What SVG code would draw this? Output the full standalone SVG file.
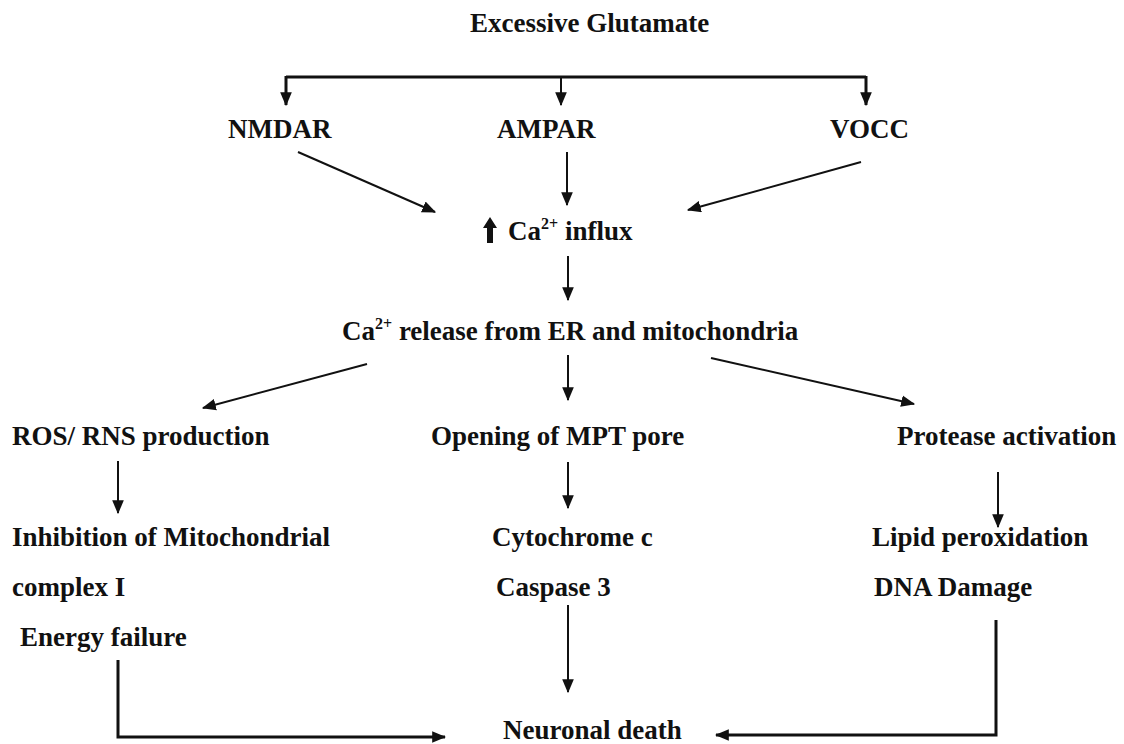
<svg xmlns="http://www.w3.org/2000/svg" width="1124" height="744" viewBox="0 0 1124 744">
<style>
.l{font-family:'Liberation Serif';font-weight:700;font-size:27px;fill:#111}
.sup{font-size:16px}
.c{fill:none;stroke:#111;stroke-width:2}
.t{stroke-width:3}
</style>
<defs>
<marker id="ah" viewBox="0 0 12 10" refX="11" refY="5" markerWidth="14" markerHeight="12" markerUnits="userSpaceOnUse" orient="auto">
<path d="M0,0 L12,5 L0,10 Z" fill="#111"/>
</marker>
</defs>
<rect width="1124" height="744" fill="#fff"/>
<g id="n-glutamate"><text class="l" font-family="Liberation Serif" x="470" y="32">Excessive Glutamate</text></g>
<g id="n-nmdar"><text class="l" font-family="Liberation Serif" x="228" y="138">NMDAR</text></g>
<g id="n-ampar"><text class="l" font-family="Liberation Serif" x="497" y="138">AMPAR</text></g>
<g id="n-vocc"><text class="l" font-family="Liberation Serif" x="830" y="138">VOCC</text></g>
<g id="n-influx">
<path d="M487,243 L487,228 L483,228 L490,217 L497,228 L493,228 L493,243 Z" fill="#111"/>
<text class="l" font-family="Liberation Serif" x="508" y="240">Ca<tspan class="sup" dy="-11">2+</tspan><tspan dy="11"> influx</tspan></text>
</g>
<g id="n-release"><text class="l" font-family="Liberation Serif" x="342" y="340">Ca<tspan class="sup" dy="-11">2+</tspan><tspan dy="11"> release from ER and mitochondria</tspan></text></g>
<g id="n-ros"><text class="l" font-family="Liberation Serif" x="12" y="445">ROS/ RNS production</text></g>
<g id="n-mpt"><text class="l" font-family="Liberation Serif" x="431" y="445">Opening of MPT pore</text></g>
<g id="n-protease"><text class="l" font-family="Liberation Serif" x="897" y="445">Protease activation</text></g>
<g id="n-inhibition"><text class="l" font-family="Liberation Serif" x="12" y="546">Inhibition of Mitochondrial</text><text class="l" font-family="Liberation Serif" x="12" y="596">complex I</text><text class="l" font-family="Liberation Serif" x="20" y="646">Energy failure</text></g>
<g id="n-cyto"><text class="l" font-family="Liberation Serif" x="492" y="546">Cytochrome c</text><text class="l" font-family="Liberation Serif" x="496" y="596">Caspase 3</text></g>
<g id="n-lipid"><text class="l" font-family="Liberation Serif" x="872" y="546">Lipid peroxidation</text><text class="l" font-family="Liberation Serif" x="874" y="596">DNA Damage</text></g>
<g id="n-death"><text class="l" font-family="Liberation Serif" x="503" y="739">Neuronal death</text></g>
<g id="connectors">
<path class="c t" d="M286,77 L866,77"/>
<path class="c t" d="M286,76 L286,105" marker-end="url(#ah)"/>
<path class="c" d="M561,77 L561,105" marker-end="url(#ah)"/>
<path class="c t" d="M866,76 L866,105" marker-end="url(#ah)"/>
<path class="c" d="M298,152 L435,212" marker-end="url(#ah)"/>
<path class="c" d="M567,152 L567,205" marker-end="url(#ah)"/>
<path class="c" d="M861,162 L688,210" marker-end="url(#ah)"/>
<path class="c" d="M568,256 L568,300" marker-end="url(#ah)"/>
<path class="c" d="M367,364 L203,408" marker-end="url(#ah)"/>
<path class="c" d="M568,355 L568,400" marker-end="url(#ah)"/>
<path class="c" d="M711,358 L914,404" marker-end="url(#ah)"/>
<path class="c" d="M118,461 L118,513" marker-end="url(#ah)"/>
<path class="c" d="M568,462 L568,508" marker-end="url(#ah)"/>
<path class="c" d="M998,472 L998,527" marker-end="url(#ah)"/>
<path class="c" d="M568,605 L568,692" marker-end="url(#ah)"/>
<path class="c t" d="M118,660 L118,737 L445,737" marker-end="url(#ah)"/>
<path class="c t" d="M996,620 L996,735 L716,735" marker-end="url(#ah)"/>
</g>
</svg>
